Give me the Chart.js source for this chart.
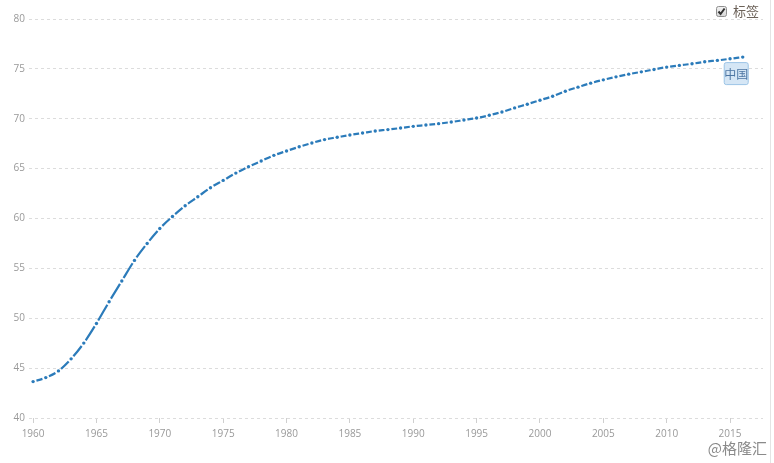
<!DOCTYPE html>
<html>
<head>
<meta charset="utf-8">
<script src="https://cdn.jsdelivr.net/npm/chart.js@4/dist/chart.umd.min.js"></script>
<style>
  html, body { margin: 0; padding: 0; background: #fff; }
  #wrap { width: 774px; height: 463px; position: relative; }
</style>
</head>
<body>
<div id="wrap"><canvas id="lifeChart" width="774" height="463"></canvas></div>
<script>
// China life expectancy, 1960-2016
const years = [1960, 1961, 1962, 1963, 1964, 1965, 1966, 1967, 1968, 1969,
  1970, 1971, 1972, 1973, 1974, 1975, 1976, 1977, 1978, 1979,
  1980, 1981, 1982, 1983, 1984, 1985, 1986, 1987, 1988, 1989,
  1990, 1991, 1992, 1993, 1994, 1995, 1996, 1997, 1998, 1999,
  2000, 2001, 2002, 2003, 2004, 2005, 2006, 2007, 2008, 2009,
  2010, 2011, 2012, 2013, 2014, 2015, 2016];
const lifeExp = [43.65, 44.05, 44.72, 45.93, 47.51, 49.48, 51.66, 53.74, 55.8, 57.5,
  59.0, 60.2, 61.28, 62.18, 63.09, 63.82, 64.55, 65.19, 65.76, 66.33,
  66.77, 67.19, 67.57, 67.91, 68.14, 68.37, 68.57, 68.77, 68.91, 69.07,
  69.24, 69.37, 69.51, 69.67, 69.87, 70.07, 70.35, 70.68, 71.09, 71.46,
  71.86, 72.26, 72.76, 73.17, 73.57, 73.90, 74.20, 74.47, 74.70, 74.94,
  75.18, 75.35, 75.51, 75.71, 75.85, 76.01, 76.18];
const xTickLabels = [1960, 1965, 1970, 1975, 1980, 1985, 1990, 1995, 2000, 2005, 2010, 2015];
const yTickLabels = [40, 45, 50, 55, 60, 65, 70, 75, 80];
const seriesName = "中国";

let points = years.map(function(y, i){ return {x: y, y: lifeExp[i]}; });

const lineColor = "#2b7bba";

// dash fills each segment between two points, leaving a gap round each dot
function segLen(ctx){
  let dx = ctx.p1.x - ctx.p0.x, dy = ctx.p1.y - ctx.p0.y;
  return Math.max(Math.sqrt(dx*dx + dy*dy) - 7, 1);
}
function segDash(ctx){
  return [segLen(ctx), 200];
}
function segOffset(ctx){
  // tiny alternating shift so every segment is stroked on its own
  return segLen(ctx) + 200 - 3.5 + (ctx.p0DataIndex % 2) * 0.0001;
}

const extras = {
  id: "extras",
  afterDraw(chart){
    const c = chart.ctx;
    c.save();
    // right border
    c.strokeStyle = "#e4e4e4";
    c.lineWidth = 1;
    c.beginPath(); c.moveTo(770.5, 0); c.lineTo(770.5, 463); c.stroke();

    // checkbox + 标签
    let bx = 716, by = 6;
    let g = c.createLinearGradient(0, by, 0, by + 10);
    g.addColorStop(0, "#f4f4f4"); g.addColorStop(1, "#d8d8d8");
    c.fillStyle = g;
    c.strokeStyle = "#8f8f8f";
    c.beginPath(); c.roundRect(bx + 0.5, by + 0.5, 10, 10, 2); c.fill(); c.stroke();
    c.strokeStyle = "#333";
    c.lineWidth = 2;
    c.beginPath(); c.moveTo(bx + 2.5, by + 5.5); c.lineTo(bx + 4.6, by + 8); c.lineTo(bx + 8.6, by + 2.5); c.stroke();
    c.fillStyle = "#6b6158";
    c.font = "13px 'Noto Sans CJK SC'";
    c.textBaseline = "middle";
    c.textAlign = "left";
    c.fillText("标签", 733, 11);

    // series label at last point
    const meta = chart.getDatasetMeta(0);
    const last = meta.data[meta.data.length - 1];
    let lx = last.x - 19, ly = last.y + 5, lw = 24, lh = 22;
    c.fillStyle = "#d5e6f5";
    c.strokeStyle = "#9cc4e6";
    c.lineWidth = 1;
    c.beginPath(); c.roundRect(lx + 0.5, ly + 0.5, lw, lh, 2); c.fill(); c.stroke();
    c.fillStyle = "#4d76a3";
    c.font = "12px 'Noto Sans CJK SC'";
    c.textAlign = "center";
    c.fillText(seriesName, lx + lw / 2 + 0.5, ly + lh / 2 + 1);

    // watermark
    c.fillStyle = "#8a8a8a";
    c.font = "15px 'Noto Sans CJK SC'";
    c.textAlign = "right";
    c.fillText("@格隆汇", 767, 448);
    c.restore();
  }
};

let ctx = document.getElementById("lifeChart").getContext("2d");

let lifeChart = new Chart(ctx, {
  type: "line",
  data: {
    datasets: [{
      label: seriesName,
      data: points,
      borderColor: lineColor,
      backgroundColor: lineColor,
      borderWidth: 2.2,
      pointRadius: 1.7,
      pointBorderWidth: 0,
      pointHoverRadius: 1.7,
      cubicInterpolationMode: "monotone",
      fill: false,
      segment: {
        borderDash: segDash,
        borderDashOffset: segOffset
      }
    }]
  },
  options: {
    responsive: false,
    animation: false,
    events: [],
    layout: { padding: { top: 19, left: 9.6, right: 11, bottom: 18 } },
    plugins: {
      legend: { display: false },
      tooltip: { enabled: false }
    },
    scales: {
      x: {
        type: "linear",
        min: 1959.68,
        max: 2017.6,
        afterBuildTicks: function(axis){
          axis.ticks = xTickLabels.map(function(v){ return {value: v}; });
        },
        ticks: {
          color: "#999",
          font: { family: "Open Sans", size: 10 },
          padding: 5,
          maxRotation: 0,
          callback: function(v){ return String(v); }
        },
        grid: {
          drawOnChartArea: false,
          drawTicks: true,
          tickLength: 5,
          color: "#cfcfcf"
        },
        border: { display: false }
      },
      y: {
        min: 40,
        max: 80,
        afterBuildTicks: function(axis){
          axis.ticks = yTickLabels.map(function(v){ return {value: v}; });
        },
        ticks: {
          color: "#999",
          font: { family: "Open Sans", size: 10 },
          padding: 4
        },
        grid: {
          color: "#dcdcdc",
          drawTicks: false
        },
        border: { display: false, dash: [3, 3] }
      }
    }
  },
  plugins: [extras]
});
</script>
</body>
</html>
